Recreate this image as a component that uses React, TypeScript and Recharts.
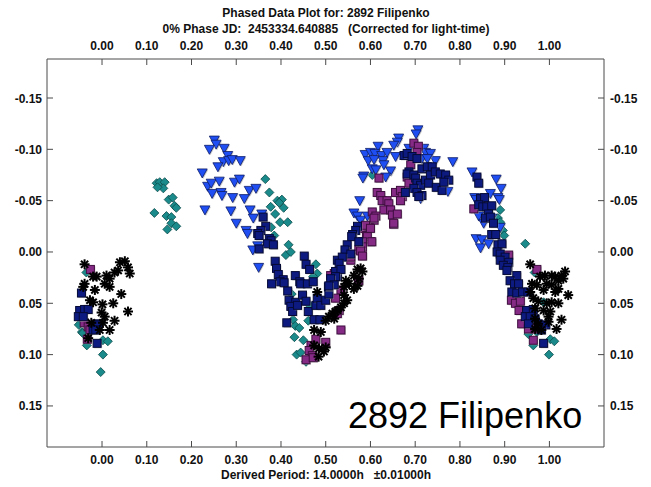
import React from 'react';
import { ScatterChart, Scatter, XAxis, YAxis } from 'recharts';

// phase ticks (top + bottom) and magnitude ticks (left + right)
const xTicks = [0, 0.1, 0.2, 0.3, 0.4, 0.5, 0.6, 0.7, 0.8, 0.9, 1.0];
const yTicks = [-0.15, -0.1, -0.05, 0, 0.05, 0.1, 0.15];

const titleLine1 = 'Phased Data Plot for: 2892 Filipenko';
const titleLine2 = '0% Phase JD:  2453334.640885   (Corrected for light-time)';
const periodLabel = 'Derived Period: 14.0000h   \u00b10.01000h';
const objectName = '2892 Filipenko';

// [phase, reduced mag] per session
const tealDiamonds = [
  [0.122, -0.067], [0.129, -0.068], [0.14, -0.068], [0.137, -0.062], [0.124, -0.063],
  [0.149, -0.051], [0.158, -0.053], [0.162, -0.045], [0.166, -0.043], [0.117, -0.038],
  [0.144, -0.035], [0.155, -0.034], [0.155, -0.028], [0.166, -0.025], [0.146, -0.022],
  [-0.035, 0.02], [-0.052, 0.071], [-0.045, 0.078], [-0.043, 0.079], [-0.034, 0.091],
  [0.002, 0.086], [0.013, 0.087], [0.002, 0.1], [-0.003, 0.117],
  [0.365, -0.071], [0.374, -0.058], [0.392, -0.05], [0.402, -0.051], [0.396, -0.048],
  [0.406, -0.043], [0.377, -0.044], [0.387, -0.037], [0.398, -0.029], [0.415, -0.029],
  [0.378, -0.024], [0.385, -0.016], [0.417, -0.007], [0.411, 0.003], [0.422, 0.0],
  [0.478, 0.012], [0.481, 0.021], [0.472, 0.024], [0.424, 0.041], [0.464, 0.052],
  [0.461, 0.067], [0.427, 0.066], [0.432, 0.072], [0.441, 0.074], [0.43, 0.083],
  [0.45, 0.086], [0.435, 0.1], [0.444, 0.098], [0.456, 0.107],
  [0.604, -0.075],
  [0.89, -0.041], [0.885, -0.033], [0.89, -0.029], [0.896, -0.021], [0.899, -0.016],
  [0.946, -0.008], [0.967, 0.02], [0.987, 0.049], [0.957, 0.075], [0.953, 0.08],
  [0.972, 0.078], [1.002, 0.085], [1.011, 0.087], [0.964, 0.091], [0.999, 0.1],
];

const blueTriangles = [
  [0.251, -0.109], [0.255, -0.105], [0.273, -0.101], [0.24, -0.1], [0.281, -0.094],
  [0.271, -0.088], [0.283, -0.089], [0.291, -0.09], [0.309, -0.089], [0.259, -0.083],
  [0.224, -0.077], [0.236, -0.064], [0.244, -0.067], [0.262, -0.069], [0.296, -0.068],
  [0.307, -0.071], [0.329, -0.06], [0.344, -0.062], [0.246, -0.057], [0.266, -0.058],
  [0.268, -0.055], [0.292, -0.053], [0.318, -0.052], [0.23, -0.041], [0.288, -0.04],
  [0.331, -0.041], [0.338, -0.033], [0.357, -0.037], [0.3, -0.028], [0.322, -0.021],
  [0.325, -0.018], [0.337, -0.002], [0.35, 0.015], [0.348, -0.006],
  [0.706, -0.119], [0.702, -0.115], [0.663, -0.111], [0.66, -0.107], [0.652, -0.104],
  [0.617, -0.103], [0.588, -0.095], [0.6, -0.097], [0.61, -0.096], [0.625, -0.094],
  [0.637, -0.097], [0.595, -0.089], [0.608, -0.09], [0.628, -0.089], [0.63, -0.085],
  [0.656, -0.093], [0.719, -0.101], [0.723, -0.097], [0.734, -0.096], [0.745, -0.089],
  [0.715, -0.091], [0.727, -0.091], [0.686, -0.101], [0.784, -0.088], [0.604, -0.081],
  [0.612, -0.08], [0.645, -0.079], [0.634, -0.073], [0.585, -0.074], [0.583, -0.072],
  [0.773, -0.059], [0.576, -0.05], [0.563, -0.038], [0.571, -0.035], [0.578, -0.031],
  [0.593, -0.035], [0.712, -0.052],
  [0.827, -0.078], [0.881, -0.071], [0.892, -0.062], [0.833, -0.053], [0.836, -0.051],
  [0.868, -0.057], [0.885, -0.053], [0.888, -0.051], [0.842, -0.035], [0.853, -0.028],
  [0.871, -0.033], [0.89, -0.024], [0.836, -0.013], [0.849, -0.012], [0.846, -0.004],
  [0.864, -0.008],
];

const purpleSquares = [
  [-0.026, 0.017], [-0.04, 0.069], [-0.031, 0.073], [-0.027, 0.076], [-0.033, 0.085],
  [0.608, -0.031], [0.586, -0.023], [0.597, -0.024], [0.591, -0.016], [0.6, -0.01],
  [0.574, -0.002], [0.582, 0.003], [0.652, -0.027], [0.556, 0.008], [0.574, 0.028],
  [0.534, 0.037], [0.522, 0.045], [0.534, 0.076], [0.478, 0.085], [0.5, 0.088],
  [0.467, 0.091], [0.463, 0.096], [0.47, 0.101], [0.456, 0.105], [0.472, 0.103],
  [0.519, 0.021], [0.53, 0.057], [0.526, 0.06], [0.511, 0.023], [0.573, 0.028],
  [0.697, -0.106], [0.707, -0.103], [0.704, -0.097], [0.69, -0.085], [0.682, -0.073],
  [0.686, -0.067], [0.619, -0.072], [0.615, -0.058], [0.623, -0.055], [0.626, -0.05],
  [0.637, -0.05], [0.641, -0.047], [0.656, -0.058], [0.667, -0.06], [0.671, -0.054],
  [0.667, -0.05], [0.63, -0.041], [0.645, -0.041], [0.649, -0.036], [0.66, -0.037],
  [0.652, -0.028], [0.604, -0.039], [0.612, -0.035], [0.608, -0.033], [0.589, -0.026],
  [0.6, -0.023], [0.593, -0.015], [0.603, -0.01], [0.582, -0.01], [0.582, -0.005],
  [0.578, -0.001], [0.582, 0.004], [0.556, 0.005],
  [0.831, -0.042], [0.909, 0.003], [0.972, 0.017], [0.927, 0.041], [0.915, 0.047],
  [0.924, 0.05], [0.935, 0.048], [0.932, 0.057], [0.938, 0.07], [0.957, 0.068],
  [0.953, 0.075], [0.968, 0.075], [0.964, 0.086],
];

const navySquares = [
  [-0.046, 0.04], [-0.05, 0.057], [-0.039, 0.056], [-0.031, 0.056], [-0.053, 0.063],
  [-0.042, 0.063], [-0.012, 0.07], [-0.009, 0.071], [-0.02, 0.076], [-0.014, 0.076],
  [-0.011, 0.089],
  [0.36, -0.034], [0.366, -0.025], [0.355, -0.021], [0.348, -0.018], [0.351, -0.016],
  [0.374, -0.013], [0.378, -0.011], [0.37, -0.008], [0.383, -0.007], [0.351, -0.003],
  [0.387, 0.009], [0.39, 0.016], [0.394, 0.022], [0.405, 0.027], [0.398, 0.029],
  [0.407, 0.03], [0.379, 0.031], [0.415, 0.038], [0.452, 0.004], [0.456, 0.012],
  [0.464, 0.017], [0.432, 0.023], [0.442, 0.029], [0.444, 0.031], [0.459, 0.031],
  [0.472, 0.029], [0.418, 0.047], [0.433, 0.049], [0.422, 0.053], [0.426, 0.058],
  [0.437, 0.052], [0.448, 0.042], [0.456, 0.048], [0.413, 0.069], [0.461, 0.058],
  [0.478, 0.052], [0.481, 0.045], [0.489, 0.052], [0.474, 0.066], [0.487, 0.066],
  [0.5, 0.047], [0.507, 0.041], [0.506, 0.034], [0.515, 0.028], [0.526, 0.024],
  [0.522, 0.019], [0.526, 0.008],
  [0.571, -0.025], [0.567, -0.021], [0.56, -0.017], [0.558, -0.015], [0.574, -0.01],
  [0.548, -0.007], [0.543, -0.002], [0.556, 0.002], [0.537, 0.005], [0.53, 0.011],
  [0.534, 0.017], [0.522, 0.024], [0.511, 0.026], [0.519, 0.032], [0.507, 0.033],
  [0.675, -0.094], [0.682, -0.096], [0.693, -0.093], [0.704, -0.091], [0.686, -0.078],
  [0.682, -0.076], [0.697, -0.075], [0.701, -0.072], [0.715, -0.081], [0.727, -0.083],
  [0.738, -0.083], [0.704, -0.067], [0.712, -0.065], [0.723, -0.07], [0.734, -0.075],
  [0.745, -0.078], [0.756, -0.076], [0.768, -0.075], [0.775, -0.07], [0.73, -0.067],
  [0.747, -0.063], [0.76, -0.06], [0.764, -0.068], [0.697, -0.062], [0.704, -0.058],
  [0.715, -0.055], [0.708, -0.054], [0.678, -0.058],
  [0.838, -0.073], [0.842, -0.067], [0.846, -0.052], [0.855, -0.053], [0.842, -0.046],
  [0.851, -0.044], [0.86, -0.044], [0.871, -0.045], [0.864, -0.037], [0.857, -0.033],
  [0.868, -0.034], [0.875, -0.028], [0.871, -0.017], [0.88, -0.017], [0.885, -0.007],
  [0.894, -0.008], [0.883, 0.0], [0.89, 0.002], [0.901, 0.005], [0.89, 0.008],
  [0.909, 0.01], [0.897, 0.013], [0.907, 0.015], [0.905, 0.018], [0.927, 0.023],
  [0.912, 0.028], [0.922, 0.031], [0.931, 0.031], [0.916, 0.039], [0.927, 0.04],
  [0.94, 0.039], [0.952, 0.039], [0.949, 0.057], [0.964, 0.056], [0.946, 0.063],
  [0.957, 0.063], [0.968, 0.065], [0.953, 0.07], [0.975, 0.07], [0.992, 0.071],
  [0.982, 0.076], [0.987, 0.089],
];

const blackStars = [
  [-0.039, 0.012], [-0.02, 0.024], [-0.012, 0.024], [-0.039, 0.031], [-0.042, 0.034],
  [-0.016, 0.037], [0.01, 0.023], [0.017, 0.026], [0.006, 0.031], [0.017, 0.034],
  [0.028, 0.02], [0.036, 0.018], [0.051, 0.009], [0.058, 0.015], [0.062, 0.021],
  [0.043, 0.041], [0.025, 0.05], [0.001, 0.051], [-0.027, 0.047], [-0.02, 0.049],
  [-0.001, 0.059], [0.006, 0.063], [0.002, 0.069], [0.058, 0.058], [0.028, 0.067],
  [-0.024, 0.069], [0.017, 0.076], [-0.031, 0.084], [-0.005, 0.076], [0.04, 0.01],
  [0.571, 0.017], [0.582, 0.019], [0.563, 0.023], [0.574, 0.026], [0.545, 0.028],
  [0.552, 0.031], [0.571, 0.033], [0.563, 0.036], [0.541, 0.034], [0.481, 0.039],
  [0.548, 0.047], [0.541, 0.05], [0.534, 0.054], [0.526, 0.057], [0.515, 0.06],
  [0.507, 0.063], [0.519, 0.065], [0.5, 0.067], [0.474, 0.076], [0.489, 0.078],
  [0.474, 0.091], [0.485, 0.094], [0.5, 0.093], [0.496, 0.097], [0.484, 0.102],
  [0.541, 0.042], [0.578, 0.016], [0.522, 0.058],
  [0.957, 0.012], [0.979, 0.024], [0.99, 0.023], [1.005, 0.023], [1.013, 0.024],
  [1.027, 0.023], [1.035, 0.019], [0.961, 0.031], [0.972, 0.032], [0.994, 0.031],
  [1.005, 0.032], [1.02, 0.028], [1.031, 0.026], [0.987, 0.037], [1.013, 0.039],
  [1.02, 0.036], [1.042, 0.042], [0.957, 0.039], [0.964, 0.045], [0.975, 0.048],
  [0.994, 0.05], [1.005, 0.049], [1.02, 0.05], [0.968, 0.055], [0.987, 0.057],
  [1.002, 0.058], [0.998, 0.063], [1.027, 0.066], [0.968, 0.065], [0.975, 0.07],
  [0.968, 0.075], [0.998, 0.068], [1.016, 0.075], [0.982, 0.076],
];

const toPoints = (rows: number[][]) => rows.map(([x, y]) => ({ x, y }));

const AXIS = '#4a4a4a';
const FONT = '"Liberation Sans", Arial, sans-serif';
const fmt = (v: number) => v.toFixed(2);

const tickText = { fontFamily: FONT, fontSize: 12, fontWeight: 700, fill: '#111' };

// ticks point inward, labels sit outside the box
const BottomTick = (p: any) => (
  <g>
    <line x1={p.x} x2={p.x} y1={p.y} y2={p.y - 6} stroke={AXIS} />
    <text x={p.x} y={p.y + 17} textAnchor="middle" {...tickText}>{fmt(p.payload.value)}</text>
  </g>
);
const TopTick = (p: any) => (
  <g>
    <line x1={p.x} x2={p.x} y1={p.y} y2={p.y + 6} stroke={AXIS} />
    <text x={p.x} y={p.y - 9} textAnchor="middle" {...tickText}>{fmt(p.payload.value)}</text>
  </g>
);
const LeftTick = (p: any) => (
  <g>
    <line x1={p.x} x2={p.x + 6} y1={p.y} y2={p.y} stroke={AXIS} />
    <text x={p.x - 5} y={p.y + 4.5} textAnchor="end" {...tickText}>{fmt(p.payload.value)}</text>
  </g>
);
const RightTick = (p: any) => (
  <g>
    <line x1={p.x} x2={p.x - 6} y1={p.y} y2={p.y} stroke={AXIS} />
    <text x={p.x + 6} y={p.y + 4.5} textAnchor="start" {...tickText}>{fmt(p.payload.value)}</text>
  </g>
);

const squareShape = (fill: string, edge: string) => (p: any) => (
  <g>
    <rect x={p.cx - 3} y={p.cy - 3} width={8} height={8} fill="#aaa" opacity={0.6} />
    <rect x={p.cx - 4} y={p.cy - 4} width={8} height={8} fill={fill} stroke={edge} strokeWidth={1} />
  </g>
);

const triangleShape = (p: any) => (
  <g>
    <polygon
      points={`${p.cx - 4},${p.cy - 3} ${p.cx + 6},${p.cy - 3} ${p.cx + 1},${p.cy + 6}`}
      fill="#aaa"
      opacity={0.6}
    />
    <polygon
      points={`${p.cx - 5},${p.cy - 4} ${p.cx + 5},${p.cy - 4} ${p.cx},${p.cy + 5}`}
      fill="#1f4ef2"
      stroke="#0c1c66"
      strokeWidth={0.8}
    />
  </g>
);

const diamondShape = (p: any) => (
  <polygon
    points={`${p.cx},${p.cy - 4.5} ${p.cx + 4.5},${p.cy} ${p.cx},${p.cy + 4.5} ${p.cx - 4.5},${p.cy}`}
    fill="#1b8a8a"
    stroke="#0b4a4a"
    strokeWidth={0.8}
  />
);

const starShape = (p: any) => {
  const r = 5;
  const d = 3.6;
  return (
    <g stroke="#000" strokeWidth={2}>
      <line x1={p.cx - r} x2={p.cx + r} y1={p.cy} y2={p.cy} />
      <line x1={p.cx} x2={p.cx} y1={p.cy - r} y2={p.cy + r} />
      <line x1={p.cx - d} x2={p.cx + d} y1={p.cy - d} y2={p.cy + d} />
      <line x1={p.cx - d} x2={p.cx + d} y1={p.cy + d} y2={p.cy - d} />
    </g>
  );
};

const xDomain = [-0.123, 1.122];
const yDomain = [-0.188, 0.19];

const labelText = {
  fontFamily: FONT,
  fontWeight: 700,
  fontSize: 12,
  fill: '#111',
  textAnchor: 'middle' as const,
  xmlSpace: 'preserve',
  style: { whiteSpace: 'pre' as const },
};

export default function App() {
  return (
    <div style={{ position: 'absolute', left: 0, top: 0, width: 651, height: 487, background: '#fff' }}>
      <ScatterChart width={651} height={487} margin={{ top: 34, right: 0, bottom: 15, left: 0 }}>
        <XAxis
          xAxisId="b" orientation="bottom" type="number" dataKey="x" domain={xDomain} ticks={xTicks}
          allowDataOverflow interval={0} height={25} tickSize={0} tickMargin={0} tickLine={false}
          axisLine={{ stroke: AXIS }} tick={BottomTick}
        />
        <XAxis
          xAxisId="t" orientation="top" type="number" dataKey="x" domain={xDomain} ticks={xTicks}
          allowDataOverflow interval={0} height={25} tickSize={0} tickMargin={0} tickLine={false}
          axisLine={{ stroke: AXIS }} tick={TopTick}
        />
        <YAxis
          yAxisId="l" orientation="left" type="number" dataKey="y" domain={yDomain} ticks={yTicks} reversed
          allowDataOverflow interval={0} width={47} tickSize={0} tickMargin={0} tickLine={false}
          axisLine={{ stroke: AXIS }} tick={LeftTick}
        />
        <YAxis
          yAxisId="r" orientation="right" type="number" dataKey="y" domain={yDomain} ticks={yTicks} reversed
          allowDataOverflow interval={0} width={47} tickSize={0} tickMargin={0} tickLine={false}
          axisLine={{ stroke: AXIS }} tick={RightTick}
        />
        <Scatter xAxisId="b" yAxisId="l" data={toPoints(tealDiamonds)} shape={diamondShape} isAnimationActive={false} />
        <Scatter xAxisId="b" yAxisId="l" data={toPoints(blueTriangles)} shape={triangleShape} isAnimationActive={false} />
        <Scatter xAxisId="b" yAxisId="l" data={toPoints(purpleSquares)} shape={squareShape('#852a85', '#3e0e3e')} isAnimationActive={false} />
        <Scatter xAxisId="b" yAxisId="l" data={toPoints(navySquares)} shape={squareShape('#0d1a80', '#050a35')} isAnimationActive={false} />
        <Scatter xAxisId="b" yAxisId="l" data={toPoints(blackStars)} shape={starShape} isAnimationActive={false} />
      </ScatterChart>
      <svg width={651} height={487} style={{ position: 'absolute', left: 0, top: 0, pointerEvents: 'none' }}>
        <text x={326} y={17} {...labelText}>{titleLine1}</text>
        <text x={326} y={33} {...labelText}>{titleLine2}</text>
        <text x={326} y={479} {...labelText}>{periodLabel}</text>
        <text x={348} y={428} fontFamily={FONT} fontSize={36} fill="#000">{objectName}</text>
      </svg>
    </div>
  );
}
